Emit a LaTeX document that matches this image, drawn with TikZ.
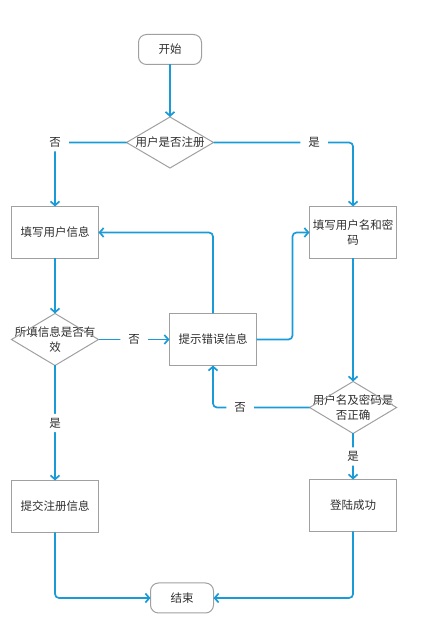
\documentclass[tikz,border=0pt]{standalone}
\usepackage{fontspec}
\newfontfamily\cjk{Noto Sans CJK SC}
\usetikzlibrary{positioning,arrows.meta}

\definecolor{flowblue}{HTML}{1A9BD7}
\definecolor{rimgray}{HTML}{A0A0A0}
\definecolor{inkgray}{HTML}{2E2E2E}

\tikzset{
	cjktext/.style={text=inkgray, font=\cjk\fontsize{11.5}{15}\selectfont},
	terminal/.style={cjktext, draw=rimgray, line width=1pt, outer sep=0pt, rounded corners=8pt, minimum width=63pt, minimum height=30pt},
	process/.style={cjktext, draw=rimgray, line width=1pt, outer sep=0pt, minimum width=87pt, minimum height=52pt, align=center},
	decision/.style={cjktext, minimum width=87pt, minimum height=52pt, inner sep=0pt, outer sep=0pt, align=center},
	rim/.style={draw=rimgray, line width=1pt},
	flow/.style={draw=flowblue, line width=1.7pt, rounded corners=4pt, -{Straight Barb[length=4pt,width=9pt]}},
	answer/.style={cjktext, fill=white, inner xsep=8pt, inner ysep=4pt},
}

\begin{document}
\begin{tikzpicture}[x=1pt, y=1pt]
	\useasboundingbox (0,0) rectangle (446,634);

	\node [terminal] (start) at (170,584.5) {开始};
	\node [decision, minimum height=51pt, below=52.5pt of start] (registered) {用户是否注册};
	\node [process, below left=38.5pt and 28pt of registered] (fillinfo) {填写用户信息};
	\node [process, below right=38.5pt and 96pt of registered] (fillaccount) {填写用户名和密\\码};
	\node [decision, below=55pt of fillinfo] (valid) {所填信息是否有\\效};
	\node [process, right=71pt of valid] (errmsg) {提示错误信息};
	\node [decision, below=123pt of fillaccount] (correct) {用户名及密码是\\否正确};
	\node [process, below=115pt of valid] (submit) {提交注册信息};
	\node [process, below=46pt of correct] (success) {登陆成功};
	\node [terminal, below right=50.5pt and 52pt of submit] (finish) {结束};

	\foreach \d in {registered, valid, correct}
		\draw [rim] (\d.north) -- (\d.east) -- (\d.south) -- (\d.west) -- cycle;

	\draw [flow] (start) -- (registered);
	\draw [flow] (registered.west) -| node [answer, pos=0.5] {否} (fillinfo.north);
	\draw [flow] (registered.east) -| node [answer, pos=0.36] {是} (fillaccount.north);
	\draw [flow] (fillinfo) -- (valid);
	\draw [flow] (valid.east) -- node [answer] {否} (errmsg.west);
	\draw [flow] (errmsg.north) |- (fillinfo.east);
	\draw [flow] (errmsg.east) -- ++(36,0) |- (fillaccount.west);
	\draw [flow] (fillaccount.south) -- (correct.north);
	\draw [flow] (correct.west) -| node [answer, pos=0.36] {否} (errmsg.south);
	\draw [flow] (correct.south) -- node [answer] {是} (success.north);
	\draw [flow] (valid.south) -- node [answer] {是} (submit.north);
	\draw [flow] (submit.south) |- (finish.west);
	\draw [flow] (success.south) |- (finish.east);

\end{tikzpicture}
\end{document}
